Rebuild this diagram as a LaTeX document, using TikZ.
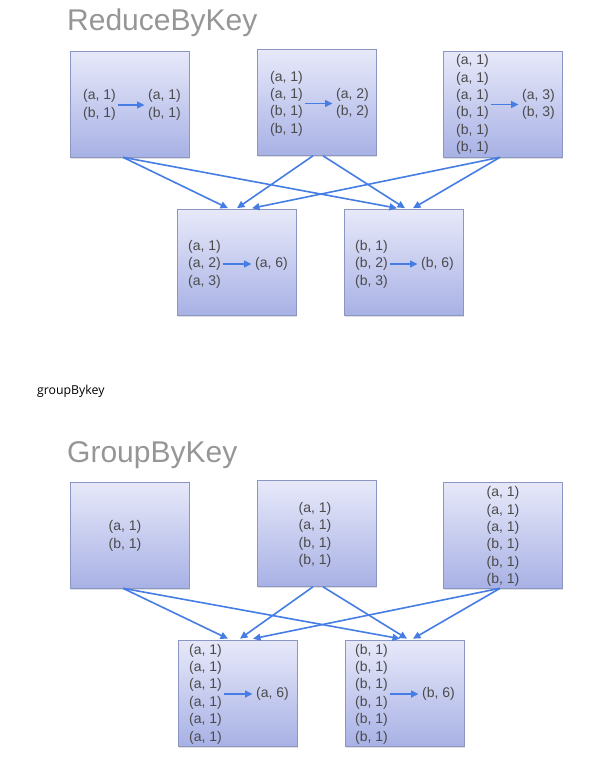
\documentclass[tikz,border=0pt]{standalone}
\usepackage{fontspec}
\setmainfont{Liberation Sans}
\newfontfamily\notefont{Open Sans}
\usetikzlibrary{arrows.meta,shadows,calc}
\definecolor{lineblue}{RGB}{70,125,228}
\definecolor{boxtop}{RGB}{231,233,249}
\definecolor{boxbot}{RGB}{168,177,229}
\definecolor{boxedge}{RGB}{140,150,195}
\definecolor{titlegray}{RGB}{150,150,150}
\definecolor{txtgray}{RGB}{75,75,75}
\tikzset{
  card/.style={draw=boxedge, line width=0.6pt, top color=boxtop, bottom color=boxbot,
    minimum width=119pt, minimum height=106pt, inner sep=0pt,
    drop shadow={shadow xshift=1pt, shadow yshift=-1.5pt, opacity=0.25}},
  pairs/.style={inner sep=0pt, align=left, font=\fontsize{14}{17.4}\selectfont, text=txtgray, anchor=west},
  pairsc/.style={pairs, align=center, anchor=center},
  flow/.style={draw=lineblue, line width=1.6pt, -{Triangle[length=7.5pt,width=7pt]}},
  merge/.style={flow, shorten <=2pt, shorten >=3.5pt},
  bigtitle/.style={font=\fontsize{30}{36}\selectfont, text=titlegray, anchor=base west, inner sep=0pt},
  note/.style={font=\notefont\fontsize{12.3}{15}\selectfont, text=black, anchor=base west, inner sep=0pt}
}
\begin{document}
\begin{tikzpicture}[x=1pt,y=-1pt]
\useasboundingbox (0,0) rectangle (600,763);

% ---------- ReduceByKey ----------
\node[bigtitle] (t1) at (67,30) {ReduceByKey};

\node[card] (r1) at (129.5,104) {};
\node[card] (r2) at (316.5,102.5) {};
\node[card] (r3) at (502.5,104) {};
\node[card] (ra) at (236.5,262.5) {};
\node[card] (rb) at (403.5,262.5) {};

\node[pairs] (r1l) at (83,105) {(a, 1)\\(b, 1)};
\node[pairs] (r1r) at (148,105) {(a, 1)\\(b, 1)};
\draw[merge] (r1l.east) -- (r1r.west);

\node[pairs] (r2l) at (270,103.5) {(a, 1)\\(a, 1)\\(b, 1)\\(b, 1)};
\node[pairs] (r2r) at (336,103.5) {(a, 2)\\(b, 2)};
\draw[merge] (r2l.east) -- (r2r.west);

\node[pairs] (r3l) at (456,104.5) {(a, 1)\\(a, 1)\\(a, 1)\\(b, 1)\\(b, 1)\\(b, 1)};
\node[pairs] (r3r) at (522,104.5) {(a, 3)\\(b, 3)};
\draw[merge] (r3l.east) -- (r3r.west);

\node[pairs] (ral) at (188,264) {(a, 1)\\(a, 2)\\(a, 3)};
\node[pairs] (rar) at (255,264) {(a, 6)};
\draw[merge] (ral.east) -- (rar.west);

\node[pairs] (rbl) at (355,264) {(b, 1)\\(b, 2)\\(b, 3)};
\node[pairs] (rbr) at (421,264) {(b, 6)};
\draw[merge] (rbl.east) -- (rbr.west);

\draw[flow] ([xshift=-6.5pt]r1.south) -- ([xshift=-8.5pt,yshift=1pt]ra.north);
\draw[flow] ([xshift=-6.5pt]r1.south) -- ([xshift=-6.5pt,yshift=1pt]rb.north);
\draw[flow] ([xshift=-3.5pt]r2.south) -- ([xshift=0.5pt,yshift=1pt]ra.north);
\draw[flow] ([xshift=6.5pt]r2.south) -- ([xshift=1.5pt,yshift=1pt]rb.north);
\draw[flow] ([xshift=-2.5pt]r3.south) -- ([xshift=15.5pt,yshift=1pt]ra.north);
\draw[flow] ([xshift=-2.5pt]r3.south) -- ([xshift=9.5pt,yshift=1pt]rb.north);

% ---------- note ----------
\node[note] (nt) at (37,394) {groupBykey};

% ---------- GroupByKey ----------
\node[bigtitle] (t2) at (67,462) {GroupByKey};

\node[card] (g1) at (129.5,535) {};
\node[card] (g2) at (316.5,533.5) {};
\node[card] (g3) at (502.5,535) {};
\node[card] (ga) at (237.5,693) {};
\node[card] (gb) at (404.5,693) {};

\node[pairsc] (g1t) at (125,536) {(a, 1)\\(b, 1)};
\node[pairsc] (g2t) at (315,535) {(a, 1)\\(a, 1)\\(b, 1)\\(b, 1)};
\node[pairsc] (g3t) at (503,536.5) {(a, 1)\\(a, 1)\\(a, 1)\\(b, 1)\\(b, 1)\\(b, 1)};

\node[pairs] (gal) at (189,694) {(a, 1)\\(a, 1)\\(a, 1)\\(a, 1)\\(a, 1)\\(a, 1)};
\node[pairs] (gar) at (256,694) {(a, 6)};
\draw[merge] (gal.east) -- (gar.west);

\node[pairs] (gbl) at (355,694) {(b, 1)\\(b, 1)\\(b, 1)\\(b, 1)\\(b, 1)\\(b, 1)};
\node[pairs] (gbr) at (422,694) {(b, 6)};
\draw[merge] (gbl.east) -- (gbr.west);

\draw[flow] ([xshift=-6.5pt]g1.south) -- ([xshift=-9.5pt,yshift=1pt]ga.north);
\draw[flow] ([xshift=-6.5pt]g1.south) -- ([xshift=-4.5pt,yshift=1pt]gb.north);
\draw[flow] ([xshift=-3.5pt]g2.south) -- ([xshift=2.5pt,yshift=1pt]ga.north);
\draw[flow] ([xshift=6.5pt]g2.south) -- ([xshift=2.5pt,yshift=1pt]gb.north);
\draw[flow] ([xshift=-2.5pt]g3.south) -- ([xshift=15.5pt,yshift=1pt]ga.north);
\draw[flow] ([xshift=-2.5pt]g3.south) -- ([xshift=8.5pt,yshift=1pt]gb.north);
\end{tikzpicture}
\end{document}
